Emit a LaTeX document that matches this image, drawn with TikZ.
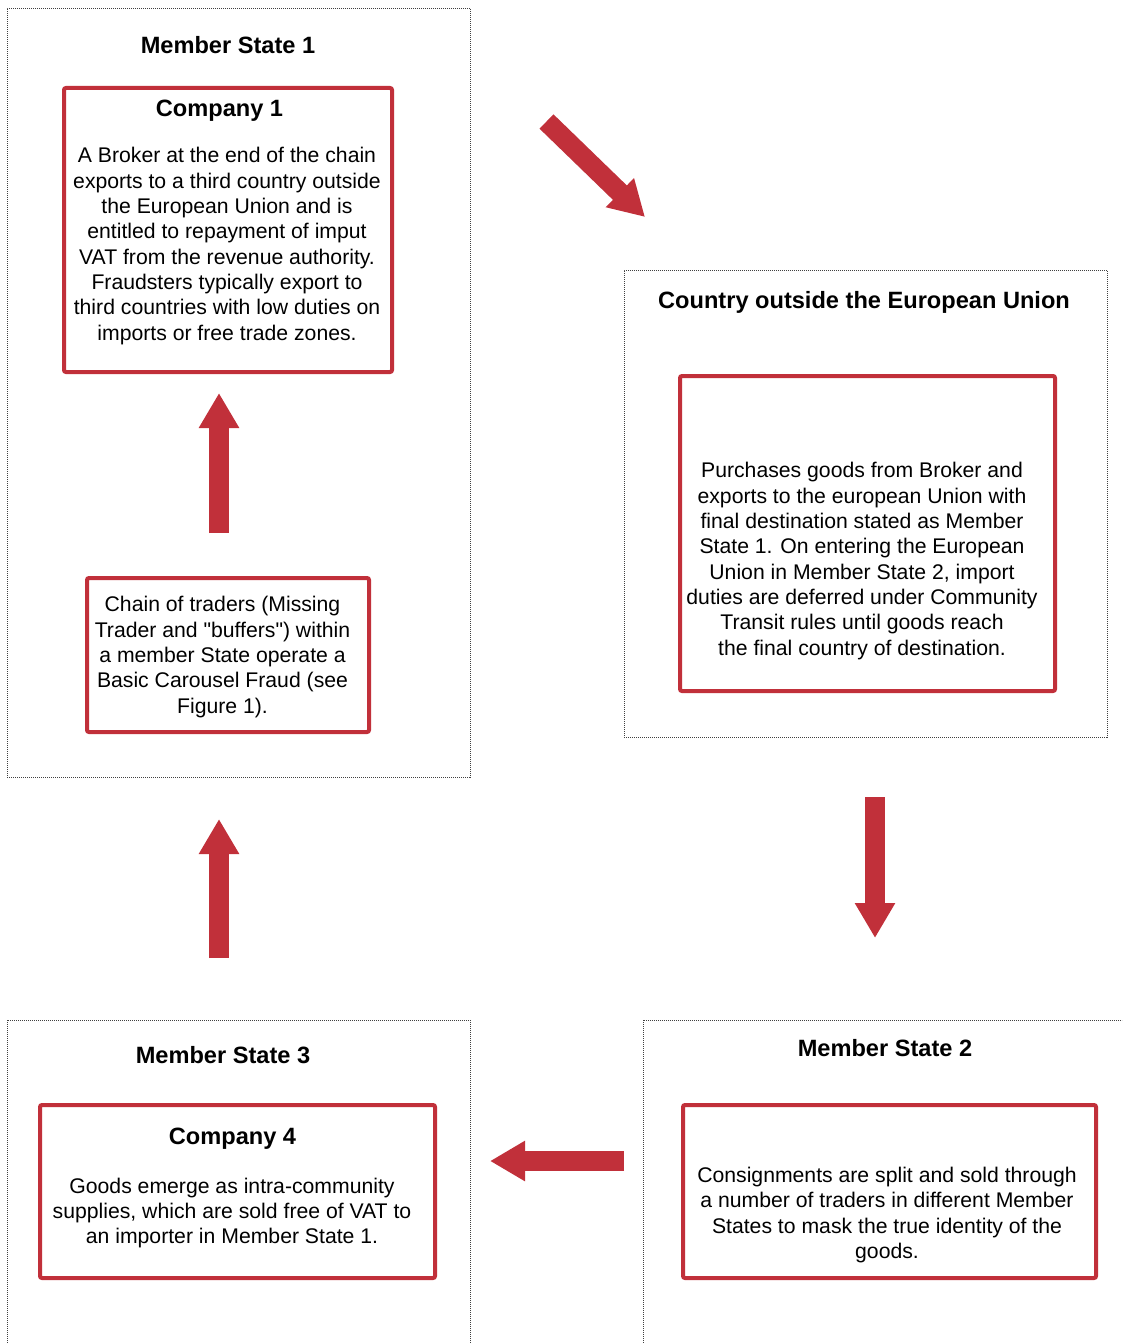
\documentclass[tikz,border=0pt]{standalone}
\usepackage{fontspec}
\setmainfont{Liberation Sans}[Ligatures=TeXOff]
\usetikzlibrary{positioning, arrows.meta}
\definecolor{fraudred}{RGB}{193,48,58}

\begin{document}
\begin{tikzpicture}[x=1pt, y=-1pt,
  region/.style={draw=black!75, line width=0.8pt, dash pattern=on 1pt off 1pt, inner sep=0pt},
  company/.style={draw=fraudred, line width=4pt, rounded corners=2pt, inner sep=0pt},
  heading/.style={font=\bfseries\fontsize{23.6}{28}\selectfont, inner sep=0pt},
  body/.style={align=center, font=\fontsize{21.2}{25.3}\selectfont, inner sep=0pt},
  bigarrow/.style={draw=fraudred, line width=20pt, -{Triangle[width=38pt, length=35pt]}}]
% Page frame
\clip (0,0) rectangle (1122,1343);

% Member State 1
\node[region, minimum width=463, minimum height=769] (ms1) at (238.5,392.5) {};
\node[heading] (ms1 title) at (228,45) {Member State 1};
\node[company, minimum width=328, minimum height=284] (comp1) at (228,230) {};
\node[heading] (comp1 title) at (219.5,111) {Company 1};
\node[body] (comp1 text) at (227,246) {A Broker at the end of the chain\\
  exports to a third country outside\\
  the European Union and is\\
  entitled to repayment of imput\\
  VAT from the revenue authority.\\
  Fraudsters typically export to\\
  third countries with low duties on\\
  imports or free trade zones.};
\node[company, minimum width=282, minimum height=154] (chain) at (228,655) {};
\node[body] (chain text) at (222.5,657) {Chain of traders (Missing\\
  Trader and "buffers") within\\
  a member State operate a\\
  Basic Carousel Fraud (see\\
  Figure 1).};

% Country outside the EU
\node[region, minimum width=483, minimum height=467] (noneu) at (865.5,503.5) {};
\node[heading] (noneu title) at (864,302) {Country outside the European Union};
\node[company, minimum width=375, minimum height=315] (buyer) at (867.5,533.5) {};
\node[body] (buyer text) at (862,561) {Purchases goods from Broker and\\
  exports to the european Union with\\
  final destination stated as Member\\
  State 1. On entering the European\\
  Union in Member State 2, import\\
  duties are deferred under Community\\
  Transit rules until goods reach\\
  the final country of destination.};

% Member State 3
\node[region, minimum width=463, minimum height=360] (ms3) at (238.5,1200) {};
\node[heading] (ms3 title) at (223,1055) {Member State 3};
\node[company, minimum width=395, minimum height=173] (comp4) at (237.5,1191.5) {};
\node[heading] (comp4 title) at (232.5,1139) {Company 4};
\node[body] (comp4 text) at (232,1213) {Goods emerge as intra-community\\
  supplies, which are sold free of VAT to\\
  an importer in Member State 1.};

% Member State 2
\node[region, minimum width=490, minimum height=360] (ms2) at (888,1200) {};
\node[heading] (ms2 title) at (885,1048) {Member State 2};
\node[company, minimum width=413, minimum height=173] (split) at (889.5,1191.5) {};
\node[body] (split text) at (887,1215) {Consignments are split and sold through\\
  a number of traders in different Member\\
  States to mask the true identity of the\\
  goods.};

% Arrow ends
\coordinate (up1 tail) at (219,533);
\coordinate (up1 tip) at (219,393);
\coordinate (diag tail) at (546.5,121.5);
\coordinate (diag tip) at (645,217);
\coordinate (down tail) at (875,797);
\coordinate (down tip) at (875,938);
\coordinate (left tail) at (624,1161);
\coordinate (left tip) at (490,1161);
\coordinate (up2 tail) at (219,958);
\coordinate (up2 tip) at (219,819);

% Draw flow arrows
\draw[bigarrow] (up1 tail) -- (up1 tip);
\draw[bigarrow] (diag tail) -- (diag tip);
\draw[bigarrow] (down tail) -- (down tip);
\draw[bigarrow] (left tail) -- (left tip);
\draw[bigarrow] (up2 tail) -- (up2 tip);
\end{tikzpicture}
\end{document}
